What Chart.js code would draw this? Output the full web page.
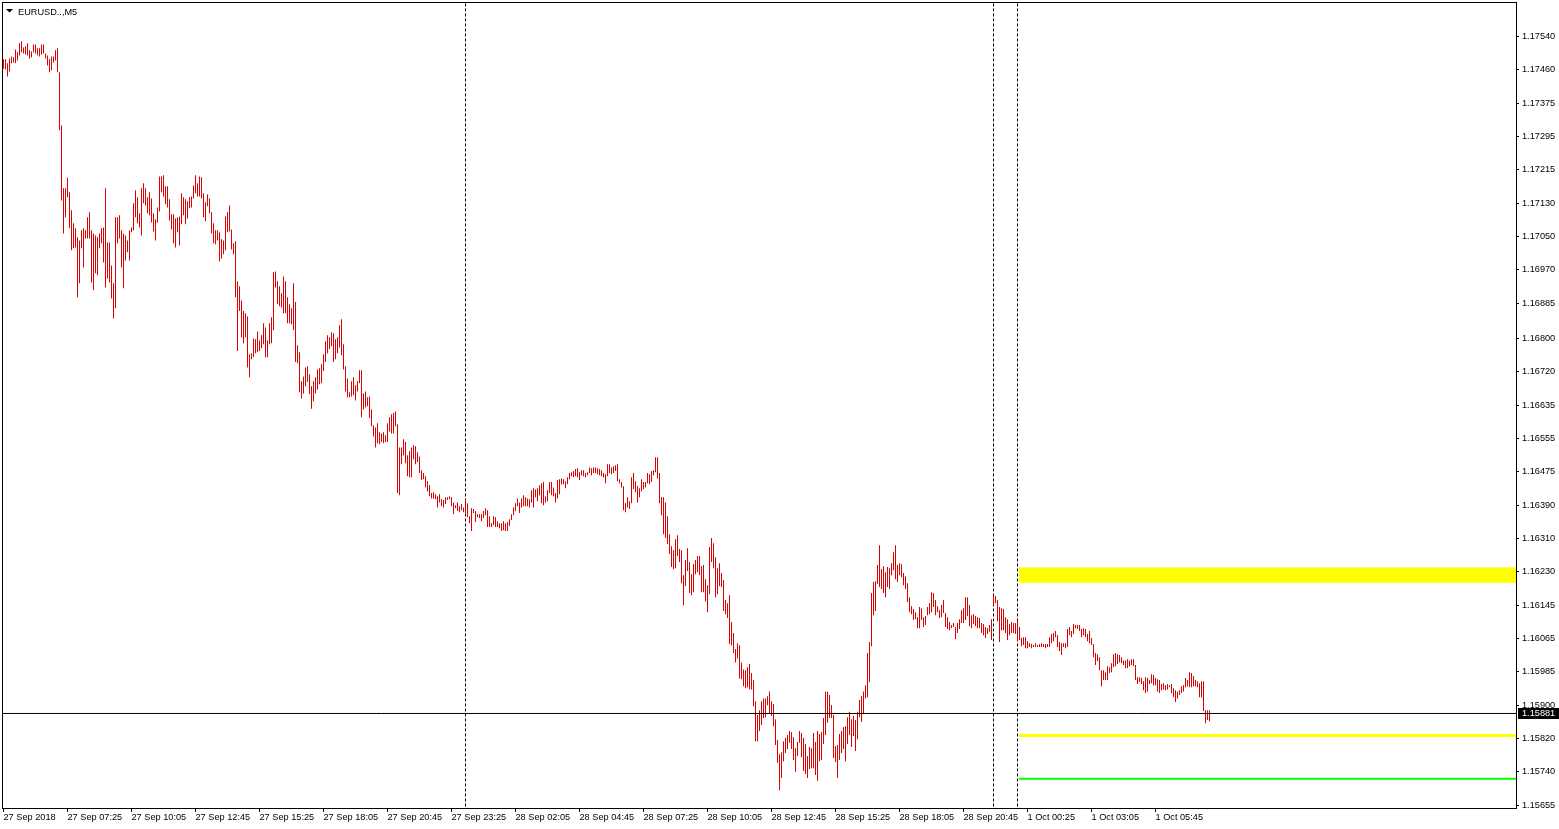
<!DOCTYPE html>
<html>
<head>
<meta charset="utf-8">
<title>EURUSD M5</title>
<script src="https://cdn.jsdelivr.net/npm/chart.js@4.4.1/dist/chart.umd.min.js"></script>
<style>
  html, body { margin: 0; padding: 0; background: #fff; }
  canvas { display: block; }
</style>
</head>
<body>
<canvas id="chart" width="1559" height="829"></canvas>
<script>
const SYMBOL_TITLE = "EURUSD..,M5";

const TIME_LABELS = [
  "27 Sep 2018", "27 Sep 07:25", "27 Sep 10:05", "27 Sep 12:45", "27 Sep 15:25",
  "27 Sep 18:05", "27 Sep 20:45", "27 Sep 23:25", "28 Sep 02:05", "28 Sep 04:45",
  "28 Sep 07:25", "28 Sep 10:05", "28 Sep 12:45", "28 Sep 15:25", "28 Sep 18:05",
  "28 Sep 20:45", "1 Oct 00:25", "1 Oct 03:05", "1 Oct 05:45"
];
const TIME_LABEL_BARS = [0, 32, 64, 96, 128, 160, 192, 224, 256, 288, 320, 352, 384, 416, 448, 480, 512, 544, 576];

const PRICE_TICKS = [
  1.17540, 1.17460, 1.17375, 1.17295, 1.17215, 1.17130, 1.17050, 1.16970,
  1.16885, 1.16800, 1.16720, 1.16635, 1.16555, 1.16475, 1.16390, 1.16310,
  1.16230, 1.16145, 1.16065, 1.15985, 1.15900, 1.15820, 1.15740, 1.15655
];

// M5 bars, high / low
const HIGHS = [
  1.17484,1.17484,1.17474,1.17486,1.17491,1.17489,1.17508,1.17501,1.17523,1.17528,
  1.17513,1.17516,1.17523,1.17506,1.17503,1.17520,1.17520,1.17511,1.17511,1.17520,
  1.17520,1.17498,1.17493,1.17484,1.17491,1.17491,1.17506,1.17511,1.17452,1.17322,
  1.17168,1.17168,1.17194,1.17158,1.17114,1.17082,1.17070,1.17048,1.17040,1.17065,
  1.17070,1.17065,1.17097,1.17109,1.17065,1.17057,1.17052,1.17048,1.17057,1.17070,
  1.17072,1.17168,1.17035,1.17035,1.16979,1.16935,1.17097,1.17097,1.17102,1.17065,
  1.17057,1.17052,1.17040,1.17065,1.17072,1.17131,1.17163,1.17146,1.17107,1.17168,
  1.17180,1.17168,1.17146,1.17158,1.17143,1.17107,1.17092,1.17121,1.17197,1.17197,
  1.17200,1.17173,1.17173,1.17141,1.17104,1.17104,1.17094,1.17097,1.17099,1.17156,
  1.17146,1.17141,1.17136,1.17146,1.17148,1.17175,1.17200,1.17180,1.17197,1.17195,
  1.17156,1.17134,1.17153,1.17143,1.17109,1.17082,1.17065,1.17065,1.17060,1.17043,
  1.17040,1.17099,1.17109,1.17126,1.17067,1.17033,1.17038,1.16940,1.16928,1.16893,
  1.16867,1.16862,1.16854,1.16761,1.16764,1.16800,1.16798,1.16817,1.16795,1.16808,
  1.16837,1.16827,1.16795,1.16837,1.16852,1.16962,1.16964,1.16940,1.16928,1.16911,
  1.16952,1.16940,1.16901,1.16884,1.16874,1.16935,1.16889,1.16783,1.16766,1.16695,
  1.16707,1.16729,1.16732,1.16712,1.16683,1.16695,1.16705,1.16724,1.16727,1.16737,
  1.16761,1.16793,1.16808,1.16803,1.16815,1.16813,1.16798,1.16803,1.16832,1.16847,
  1.16786,1.16732,1.16702,1.16668,1.16695,1.16705,1.16685,1.16695,1.16722,1.16722,
  1.16665,1.16670,1.16656,1.16658,1.16626,1.16587,1.16582,1.16592,1.16570,1.16567,
  1.16570,1.16563,1.16592,1.16607,1.16614,1.16617,1.16621,1.16590,1.16533,1.16533,
  1.16553,1.16546,1.16514,1.16524,1.16533,1.16538,1.16536,1.16521,1.16511,1.16477,
  1.16470,1.16462,1.16450,1.16440,1.16421,1.16423,1.16418,1.16413,1.16418,1.16406,
  1.16404,1.16411,1.16411,1.16413,1.16411,1.16398,1.16391,1.16398,1.16389,1.16394,
  1.16386,1.16406,1.16396,1.16364,1.16384,1.16382,1.16377,1.16369,1.16369,1.16369,
  1.16377,1.16384,1.16379,1.16364,1.16347,1.16364,1.16362,1.16352,1.16347,1.16347,
  1.16352,1.16347,1.16350,1.16357,1.16369,1.16386,1.16396,1.16408,1.16398,1.16408,
  1.16416,1.16411,1.16408,1.16406,1.16428,1.16433,1.16430,1.16433,1.16440,1.16445,
  1.16448,1.16413,1.16428,1.16448,1.16448,1.16435,1.16421,1.16453,1.16455,1.16457,
  1.16455,1.16450,1.16460,1.16470,1.16472,1.16475,1.16480,1.16482,1.16472,1.16477,
  1.16477,1.16470,1.16472,1.16484,1.16482,1.16484,1.16484,1.16482,1.16480,1.16477,
  1.16470,1.16467,1.16492,1.16492,1.16484,1.16487,1.16489,1.16492,1.16455,1.16448,
  1.16438,1.16396,1.16411,1.16401,1.16460,1.16470,1.16450,1.16438,1.16433,1.16455,
  1.16448,1.16448,1.16470,1.16467,1.16475,1.16477,1.16509,1.16509,1.16470,1.16411,
  1.16411,1.16398,1.16364,1.16320,1.16291,1.16281,1.16308,1.16318,1.16284,1.16281,
  1.16220,1.16257,1.16286,1.16252,1.16222,1.16247,1.16257,1.16267,1.16267,1.16242,
  1.16245,1.16210,1.16195,1.16289,1.16311,1.16298,1.16264,1.16237,1.16249,1.16225,
  1.16208,1.16159,1.16151,1.16171,1.16105,1.16078,1.16039,1.16053,1.16048,1.16006,
  1.15989,1.15987,1.15994,1.16002,1.15980,1.15963,1.15911,1.15877,1.15889,1.15911,
  1.15918,1.15918,1.15923,1.15935,1.15911,1.15904,1.15867,1.15816,1.15781,1.15786,
  1.15813,1.15821,1.15828,1.15838,1.15835,1.15823,1.15796,1.15811,1.15838,1.15833,
  1.15821,1.15806,1.15777,1.15799,1.15796,1.15833,1.15811,1.15838,1.15831,1.15835,
  1.15870,1.15934,1.15934,1.15926,1.15902,1.15877,1.15801,1.15804,1.15831,1.15838,
  1.15848,1.15850,1.15872,1.15885,1.15867,1.15875,1.15865,1.15885,1.15914,1.15923,
  1.15935,1.15950,1.16029,1.16056,1.16176,1.16203,1.16205,1.16245,1.16293,1.16235,
  1.16242,1.16227,1.16240,1.16237,1.16249,1.16276,1.16293,1.16245,1.16249,1.16247,
  1.16225,1.16217,1.16200,1.16166,1.16144,1.16137,1.16129,1.16117,1.16142,1.16139,
  1.16117,1.16120,1.16142,1.16151,1.16178,1.16176,1.16159,1.16144,1.16134,1.16147,
  1.16159,1.16127,1.16117,1.16105,1.16098,1.16103,1.16093,1.16103,1.16112,1.16134,
  1.16139,1.16166,1.16166,1.16147,1.16122,1.16124,1.16120,1.16117,1.16115,1.16103,
  1.16100,1.16093,1.16090,1.16098,1.16112,1.16171,1.16169,1.16159,1.16142,1.16139,
  1.16137,1.16117,1.16112,1.16100,1.16105,1.16103,1.16103,1.16110,1.16093,1.16066,
  1.16068,1.16068,1.16058,1.16053,1.16051,1.16049,1.16053,1.16049,1.16051,1.16053,
  1.16051,1.16051,1.16051,1.16068,1.16076,1.16078,1.16083,1.16073,1.16056,1.16053,
  1.16053,1.16053,1.16088,1.16093,1.16083,1.16100,1.16098,1.16098,1.16098,1.16088,
  1.16090,1.16088,1.16076,1.16083,1.16066,1.16051,1.16029,1.16026,1.16019,1.15987,
  1.15987,1.15982,1.15997,1.15994,1.16004,1.16026,1.16029,1.16026,1.16024,1.16019,
  1.16011,1.16011,1.16014,1.16011,1.16014,1.16014,1.16000,1.15970,1.15970,1.15968,
  1.15960,1.15970,1.15968,1.15963,1.15977,1.15975,1.15968,1.15965,1.15963,1.15953,
  1.15955,1.15950,1.15953,1.15950,1.15953,1.15943,1.15938,1.15934,1.15938,1.15948,
  1.15950,1.15968,1.15963,1.15982,1.15980,1.15973,1.15963,1.15960,1.15955,1.15960,
  1.15960,1.15889,1.15889,1.15889
];

const LOWS = [
  1.17461,1.17459,1.17442,1.17454,1.17474,1.17476,1.17474,1.17481,1.17493,1.17501,
  1.17498,1.17496,1.17493,1.17486,1.17489,1.17501,1.17498,1.17493,1.17491,1.17496,
  1.17498,1.17486,1.17469,1.17452,1.17457,1.17476,1.17481,1.17452,1.17310,1.17138,
  1.17057,1.17097,1.17146,1.17070,1.17016,1.17021,1.17023,1.16901,1.16935,1.17021,
  1.16974,1.17045,1.17045,1.17045,1.16937,1.16918,1.16960,1.16955,1.17021,1.17033,
  1.16986,1.16925,1.16947,1.16937,1.16898,1.16849,1.16874,1.17033,1.17045,1.16974,
  1.16923,1.16991,1.17011,1.16991,1.17060,1.17065,1.17097,1.17082,1.17072,1.17052,
  1.17131,1.17126,1.17107,1.17102,1.17084,1.17062,1.17040,1.17084,1.17111,1.17158,
  1.17148,1.17129,1.17121,1.17089,1.17067,1.17033,1.17023,1.17060,1.17028,1.17080,
  1.17102,1.17080,1.17094,1.17119,1.17121,1.17143,1.17156,1.17148,1.17148,1.17143,
  1.17097,1.17087,1.17124,1.17107,1.17057,1.17033,1.17031,1.17040,1.16989,1.16996,
  1.17006,1.17016,1.17060,1.17062,1.17018,1.17006,1.16901,1.16769,1.16867,1.16803,
  1.16788,1.16803,1.16729,1.16705,1.16749,1.16754,1.16764,1.16766,1.16769,1.16776,
  1.16786,1.16754,1.16754,1.16786,1.16788,1.16820,1.16925,1.16884,1.16879,1.16876,
  1.16862,1.16862,1.16837,1.16837,1.16835,1.16820,1.16742,1.16739,1.16668,1.16653,
  1.16665,1.16683,1.16693,1.16663,1.16628,1.16646,1.16665,1.16675,1.16688,1.16690,
  1.16720,1.16742,1.16764,1.16774,1.16781,1.16742,1.16749,1.16764,1.16778,1.16759,
  1.16724,1.16670,1.16656,1.16656,1.16658,1.16661,1.16648,1.16670,1.16690,1.16607,
  1.16626,1.16631,1.16634,1.16605,1.16585,1.16560,1.16533,1.16543,1.16541,1.16546,
  1.16543,1.16546,1.16546,1.16572,1.16567,1.16567,1.16585,1.16421,1.16416,1.16492,
  1.16514,1.16494,1.16462,1.16460,1.16460,1.16504,1.16492,1.16497,1.16470,1.16453,
  1.16455,1.16435,1.16425,1.16413,1.16408,1.16408,1.16406,1.16386,1.16398,1.16389,
  1.16386,1.16394,1.16404,1.16406,1.16389,1.16369,1.16384,1.16377,1.16374,1.16379,
  1.16374,1.16372,1.16362,1.16347,1.16328,1.16372,1.16350,1.16362,1.16360,1.16352,
  1.16360,1.16367,1.16338,1.16338,1.16338,1.16342,1.16338,1.16338,1.16335,1.16328,
  1.16330,1.16328,1.16328,1.16340,1.16355,1.16367,1.16377,1.16389,1.16372,1.16386,
  1.16389,1.16389,1.16389,1.16386,1.16398,1.16386,1.16411,1.16401,1.16416,1.16396,
  1.16391,1.16398,1.16401,1.16421,1.16416,1.16413,1.16398,1.16408,1.16418,1.16443,
  1.16443,1.16433,1.16443,1.16455,1.16462,1.16460,1.16462,1.16460,1.16453,1.16465,
  1.16462,1.16460,1.16465,1.16470,1.16465,1.16470,1.16470,1.16467,1.16465,1.16462,
  1.16460,1.16445,1.16462,1.16470,1.16467,1.16470,1.16475,1.16450,1.16445,1.16435,
  1.16379,1.16374,1.16386,1.16382,1.16396,1.16431,1.16423,1.16398,1.16411,1.16425,
  1.16431,1.16435,1.16445,1.16443,1.16448,1.16465,1.16472,1.16457,1.16396,1.16367,
  1.16320,1.16311,1.16296,1.16272,1.16240,1.16235,1.16237,1.16267,1.16252,1.16200,
  1.16146,1.16193,1.16230,1.16176,1.16171,1.16178,1.16222,1.16227,1.16220,1.16178,
  1.16178,1.16156,1.16129,1.16173,1.16252,1.16237,1.16166,1.16173,1.16193,1.16191,
  1.16132,1.16124,1.16115,1.16051,1.16048,1.16029,1.16006,1.16016,1.15967,1.15965,
  1.15948,1.15943,1.15945,1.15940,1.15940,1.15899,1.15813,1.15813,1.15838,1.15853,
  1.15870,1.15872,1.15901,1.15882,1.15875,1.15850,1.15804,1.15760,1.15693,1.15723,
  1.15764,1.15784,1.15794,1.15809,1.15794,1.15767,1.15738,1.15777,1.15809,1.15774,
  1.15740,1.15733,1.15723,1.15745,1.15747,1.15747,1.15730,1.15716,1.15764,1.15767,
  1.15806,1.15828,1.15858,1.15870,1.15870,1.15772,1.15762,1.15723,1.15767,1.15784,
  1.15794,1.15764,1.15806,1.15828,1.15799,1.15826,1.15789,1.15818,1.15872,1.15860,
  1.15882,1.15918,1.15921,1.15958,1.16046,1.16122,1.16132,1.16198,1.16191,1.16186,
  1.16176,1.16166,1.16191,1.16186,1.16220,1.16232,1.16210,1.16203,1.16220,1.16215,
  1.16195,1.16186,1.16154,1.16129,1.16124,1.16110,1.16112,1.16090,1.16090,1.16110,
  1.16093,1.16098,1.16122,1.16124,1.16129,1.16142,1.16122,1.16129,1.16115,1.16117,
  1.16127,1.16093,1.16088,1.16085,1.16090,1.16093,1.16063,1.16078,1.16088,1.16103,
  1.16103,1.16110,1.16120,1.16095,1.16090,1.16100,1.16095,1.16090,1.16090,1.16078,
  1.16073,1.16066,1.16076,1.16081,1.16061,1.16146,1.16151,1.16107,1.16056,1.16085,
  1.16085,1.16078,1.16061,1.16073,1.16078,1.16078,1.16076,1.16058,1.16061,1.16046,
  1.16049,1.16041,1.16041,1.16044,1.16041,1.16044,1.16044,1.16044,1.16044,1.16044,
  1.16044,1.16041,1.16044,1.16044,1.16053,1.16058,1.16068,1.16044,1.16034,1.16024,
  1.16044,1.16041,1.16044,1.16073,1.16068,1.16076,1.16090,1.16088,1.16083,1.16068,
  1.16073,1.16068,1.16058,1.16053,1.16049,1.16019,1.16000,1.16009,1.15987,1.15948,
  1.15963,1.15963,1.15963,1.15980,1.15982,1.15994,1.15997,1.16002,1.16006,1.16004,
  1.16000,1.15992,1.15992,1.15997,1.16000,1.15997,1.15963,1.15953,1.15958,1.15953,
  1.15938,1.15931,1.15934,1.15953,1.15955,1.15950,1.15950,1.15934,1.15931,1.15938,
  1.15940,1.15938,1.15940,1.15945,1.15931,1.15921,1.15909,1.15918,1.15926,1.15931,
  1.15935,1.15945,1.15948,1.15945,1.15945,1.15948,1.15948,1.15945,1.15921,1.15921,
  1.15887,1.15857,1.15865,1.15862
];

const SEPARATOR_BARS = [231, 495, 507];
const BID = 1.15881;
const ZONE = [1.16201, 1.16239];
const YELLOW_LEVEL = 1.15827;
const GREEN_LEVEL = 1.15721;
const OBJECTS_FROM_BAR = 507.75;

const X_MIN = -0.25, X_MAX = 756.25;
const Y_MIN = 1.156494, Y_MAX = 1.176208;

const BAR_COLOR = "#e10000";
const FONT = '"Liberation Sans", Arial, sans-serif';

Chart.defaults.font.family = FONT;
Chart.defaults.color = "#000";

const mt4Decor = {
  id: "mt4Decor",
  beforeDatasetsDraw(chart) {
    const { ctx, chartArea: a, scales: { x, y } } = chart;
    ctx.save();
    // yellow zone
    const zx = x.getPixelForValue(OBJECTS_FROM_BAR);
    const zt = y.getPixelForValue(ZONE[1]);
    const zb = y.getPixelForValue(ZONE[0]);
    ctx.fillStyle = "#ffff00";
    ctx.fillRect(zx, zt, a.right - zx, zb - zt);
    // period separators
    ctx.strokeStyle = "#000";
    ctx.lineWidth = 1;
    ctx.setLineDash([3, 2]);
    SEPARATOR_BARS.forEach(b => {
      const px = Math.floor(x.getPixelForValue(b)) + 0.5;
      ctx.beginPath();
      ctx.moveTo(px, a.top);
      ctx.lineTo(px, a.bottom);
      ctx.stroke();
    });
    ctx.restore();
  },
  afterDraw(chart) {
    const { ctx, chartArea: a, scales: { y } } = chart;
    ctx.save();
    // frame
    ctx.strokeStyle = "#000";
    ctx.lineWidth = 1;
    ctx.strokeRect(Math.round(a.left) - 0.5, Math.round(a.top) - 0.5,
      Math.round(a.right - a.left) + 1, Math.round(a.bottom - a.top) + 1);
    // symbol title
    ctx.fillStyle = "#000";
    ctx.beginPath();
    ctx.moveTo(6, 9);
    ctx.lineTo(13, 9);
    ctx.lineTo(9.5, 12.5);
    ctx.closePath();
    ctx.fill();
    ctx.font = "9.2px " + FONT;
    ctx.textBaseline = "alphabetic";
    ctx.textAlign = "left";
    ctx.fillText(SYMBOL_TITLE, 18, 14.5);
    // bid price box
    const py = y.getPixelForValue(BID);
    ctx.fillStyle = "#000";
    ctx.fillRect(a.right + 2, Math.round(py) - 5, chart.width - a.right - 2, 11);
    ctx.fillStyle = "#fff";
    ctx.textBaseline = "middle";
    ctx.fillText(BID.toFixed(5), a.right + 6, Math.round(py) + 0.5);
    ctx.restore();
  }
};

const bars = HIGHS.map((h, i) => ({ x: i, y: [LOWS[i], h] }));
const hline = v => [{ x: OBJECTS_FROM_BAR, y: v }, { x: X_MAX, y: v }];

new Chart(document.getElementById("chart"), {
  type: "bar",
  data: {
    datasets: [
      {
        type: "line",
        data: [{ x: X_MIN, y: BID }, { x: X_MAX, y: BID }],
        borderColor: "#000",
        borderWidth: 1,
        pointRadius: 0,
        order: 1
      },
      {
        type: "line",
        data: hline(YELLOW_LEVEL),
        borderColor: "#ffff00",
        borderWidth: 3,
        pointRadius: 0,
        order: 1
      },
      {
        type: "line",
        data: hline(GREEN_LEVEL),
        borderColor: "#00ff00",
        borderWidth: 2,
        pointRadius: 0,
        order: 1
      },
      {
        data: bars,
        backgroundColor: BAR_COLOR,
        borderWidth: 0,
        barThickness: 1,
        inflateAmount: 0,
        order: 2
      }
    ]
  },
  options: {
    responsive: false,
    devicePixelRatio: 1,
    animation: false,
    events: [],
    layout: { padding: { left: 3, top: 3, right: 0, bottom: 0 } },
    plugins: { legend: { display: false }, tooltip: { enabled: false } },
    scales: {
      x: {
        type: "linear",
        min: X_MIN,
        max: X_MAX,
        offset: false,
        afterBuildTicks: s => { s.ticks = TIME_LABEL_BARS.map(v => ({ value: v })); },
        afterFit: s => { s.height = 21; },
        grid: { drawOnChartArea: false, color: "#000", tickLength: 4, offset: false },
        border: { display: false },
        ticks: {
          autoSkip: false,
          maxRotation: 0,
          align: "start",
          padding: 0,
          color: "#000",
          font: { size: 9.2, lineHeight: 1.1 },
          callback: v => {
            const k = TIME_LABEL_BARS.indexOf(v);
            return k >= 0 ? TIME_LABELS[k] : "";
          }
        }
      },
      y: {
        position: "right",
        min: Y_MIN,
        max: Y_MAX,
        afterBuildTicks: s => { s.ticks = PRICE_TICKS.map(v => ({ value: v })); },
        afterFit: s => { s.width = 43; },
        grid: { drawOnChartArea: false, color: "#000", tickLength: 3 },
        border: { display: false },
        ticks: {
          padding: 3,
          color: "#000",
          font: { size: 9.2, lineHeight: 0.1 },
          callback: v => v.toFixed(5)
        }
      }
    }
  },
  plugins: [mt4Decor]
});
</script>
</body>
</html>
